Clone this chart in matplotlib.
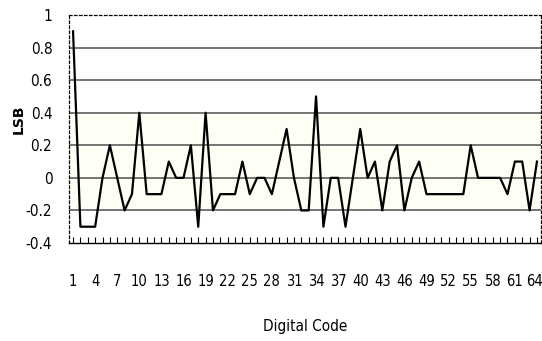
import matplotlib
matplotlib.use("Agg")
import matplotlib.pyplot as plt
import matplotlib.transforms as mtransforms

codes = list(range(1, 65))
lsb = [0.9, -0.3, -0.3, -0.3, 0.0, 0.2, 0.0, -0.2, -0.1, 0.4,
       -0.1, -0.1, -0.1, 0.1, 0.0, 0.0, 0.2, -0.3, 0.4, -0.2,
       -0.1, -0.1, -0.1, 0.1, -0.1, 0.0, 0.0, -0.1, 0.1, 0.3,
       0.0, -0.2, -0.2, 0.5, -0.3, 0.0, 0.0, -0.3, 0.0, 0.3,
       0.0, 0.1, -0.2, 0.1, 0.2, -0.2, 0.0, 0.1, -0.1, -0.1,
       -0.1, -0.1, -0.1, -0.1, 0.2, 0.0, 0.0, 0.0, 0.0, -0.1,
       0.1, 0.1, -0.2, 0.1]
xtick_vals = list(range(1, 65, 3))
ytick_vals = [-0.4, -0.2, 0, 0.2, 0.4, 0.6, 0.8, 1]
ytick_labels = ["-0.4", "-0.2", "0", "0.2", "0.4", "0.6", "0.8", "1"]

plt.rcParams["font.family"] = ["DejaVu Sans"]
plt.rcParams["font.stretch"] = "condensed"

fig = plt.figure(figsize=(5.42, 3.41), dpi=100)
ax = fig.add_axes([69/542, 98/341, 472/542, 228/341])
ax.axhspan(-0.2, 0.4, color="#fefef5", zorder=0)
for y in [-0.2, 0, 0.2, 0.4, 0.6, 0.8]:
    ax.axhline(y, color="#505050", lw=1.1, zorder=1)
ax.plot(codes, lsb, color="black", lw=1.6, zorder=3)

ax.set_xlim(0.45, 64.55)
ax.set_ylim(-0.4, 1.0)
ax.set_xticks(xtick_vals)
ax.set_xticks(codes, minor=True)
ax.set_yticks(ytick_vals)
ax.set_yticklabels(ytick_labels)
ax.tick_params(axis="x", which="both", direction="in", length=4, width=0.8,
               pad=22, labelsize=10.5)
ax.tick_params(axis="y", length=0, pad=12, labelsize=11)
last = ax.get_xticklabels()[-1]
last.set_transform(last.get_transform() +
                   mtransforms.ScaledTranslation(-2/100, 0, fig.dpi_scale_trans))
for side in ["top", "right", "left"]:
    ax.spines[side].set_linestyle((0, (2, 2)))
    ax.spines[side].set_linewidth(0.9)
ax.spines["bottom"].set_linewidth(1.0)

ax.set_xlabel("Digital Code", fontsize=11, labelpad=22)
fig.text(19/542, 1 - 119/341, "LSB", rotation=90, ha="center", va="center",
         fontstretch="normal", fontsize=10, fontweight="bold")

fig.savefig("out.png", dpi=100)
